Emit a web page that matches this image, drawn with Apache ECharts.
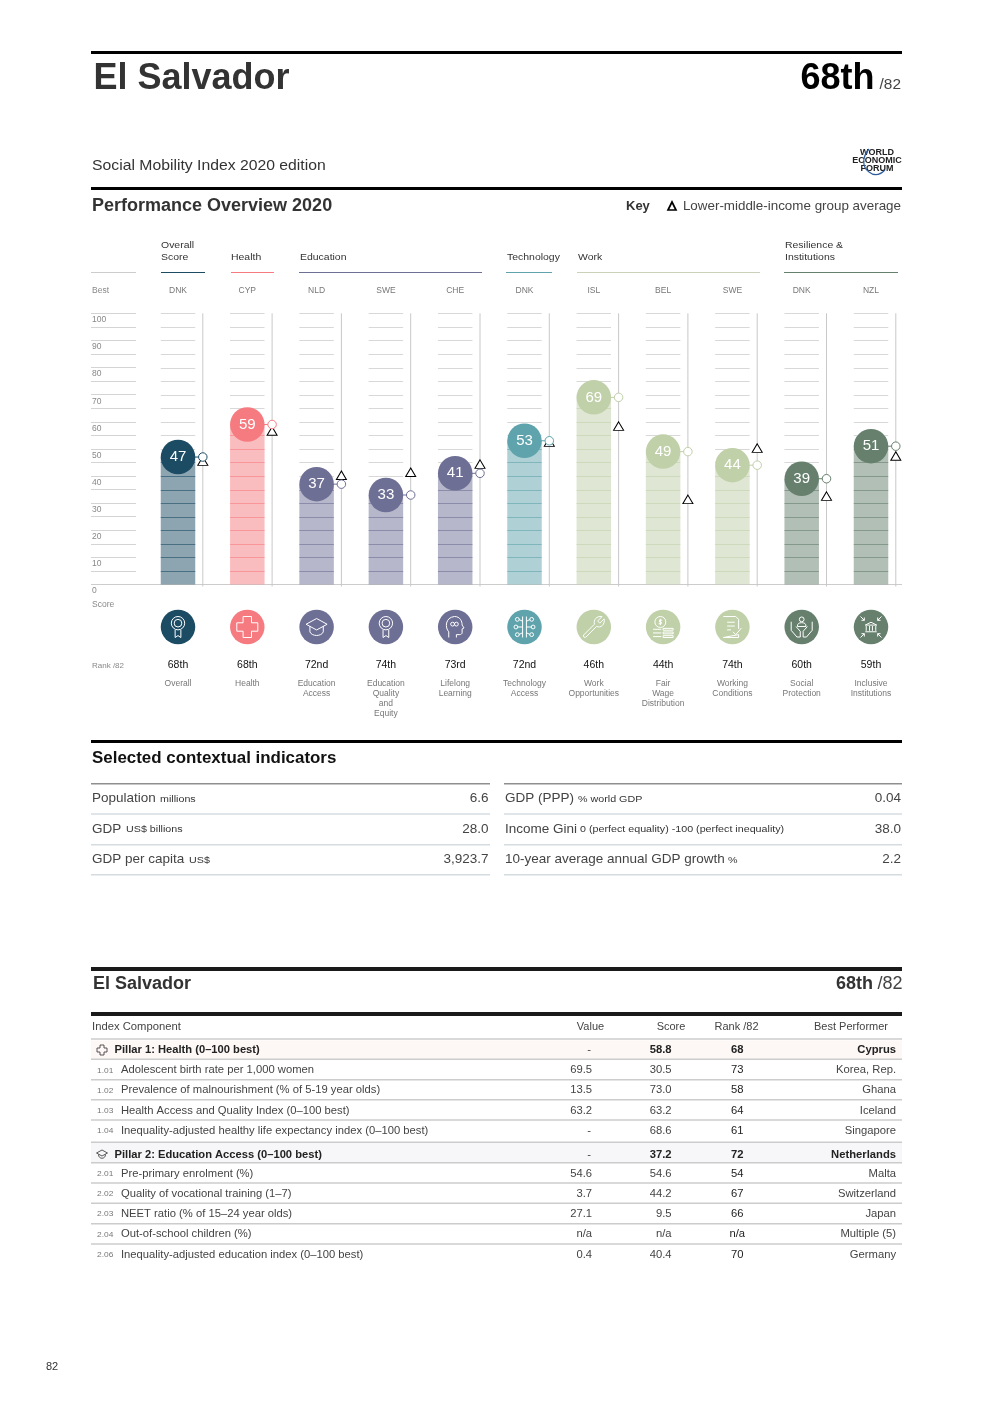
<!DOCTYPE html>
<html><head><meta charset="utf-8">
<style>html,body{margin:0;padding:0;background:#fff}#c{width:992px;height:1403px}</style>
<script src="https://cdn.jsdelivr.net/npm/echarts@6/dist/echarts.min.js"></script>
</head><body><div id="c"></div>
<script>
const FF = '"Liberation Sans", Arial, sans-serif';
// ---- data ----
const bestCodes = ['DNK','CYP','NLD','SWE','CHE','DNK','ISL','BEL','SWE','DNK','NZL'];
const scores = [47,59,37,33,41,53,69,49,44,39,51];
const groupAverages = [45.5,56.6,40.3,41.4,44.4,52.5,58.4,31.4,50.3,32.6,47.4];
const ranks = ['68th','68th','72nd','74th','73rd','72nd','46th','44th','74th','60th','59th'];
const names = [['Overall'],['Health'],['Education','Access'],['Education','Quality','and','Equity'],['Lifelong','Learning'],['Technology','Access'],['Work','Opportunities'],['Fair','Wage','Distribution'],['Working','Conditions'],['Social','Protection'],['Inclusive','Institutions']];
const colors = ['#1c4b64','#f67b80','#6e6f95','#6e6f95','#6e6f95','#5fa3ac','#c0d0a9','#c0d0a9','#c0d0a9','#66806d','#66806d'];
const groups = [
  {lines:['Overall','Score'],x:161,x2:205,color:'#1c4b64'},
  {lines:['Health'],x:231,x2:274,color:'#f67b80'},
  {lines:['Education'],x:300,x2:482,color:'#6e6f95'},
  {lines:['Technology'],x:507,x2:552,color:'#5fa3ac'},
  {lines:['Work'],x:578,x2:760,color:'#c9d2b8'},
  {lines:['Resilience &','Institutions'],x:785,x2:898,color:'#66806d'}
];
const contextLeft = [['Population','millions','6.6'],['GDP','US$ billions','28.0'],['GDP per capita','US$','3,923.7']];
const contextRight = [['GDP (PPP)','% world GDP','0.04'],['Income Gini','0 (perfect equality) -100 (perfect inequality)','38.0'],['10-year average annual GDP growth','%','2.2']];
const contextUnitXLeft = [160,126,189];
const contextUnitXRight = [578,580,728];
const tableRows = [
  ['P','Pillar 1: Health (0–100 best)','-','58.8','68','Cyprus'],
  ['1.01','Adolescent birth rate per 1,000 women','69.5','30.5','73','Korea, Rep.'],
  ['1.02','Prevalence of malnourishment (% of 5-19 year olds)','13.5','73.0','58','Ghana'],
  ['1.03','Health Access and Quality Index (0–100 best)','63.2','63.2','64','Iceland'],
  ['1.04','Inequality-adjusted healthy life expectancy index (0–100 best)','-','68.6','61','Singapore'],
  ['P','Pillar 2: Education Access (0–100 best)','-','37.2','72','Netherlands'],
  ['2.01','Pre-primary enrolment (%)','54.6','54.6','54','Malta'],
  ['2.02','Quality of vocational training (1–7)','3.7','44.2','67','Switzerland'],
  ['2.03','NEET ratio (% of 15–24 year olds)','27.1','9.5','66','Japan'],
  ['2.04','Out-of-school children (%)','n/a','n/a','n/a','Multiple (5)'],
  ['2.06','Inequality-adjusted education index (0–100 best)','0.4','40.4','70','Germany']
];
const rowCenters = [1050,1070,1090,1110.5,1130.5,1154.5,1173.5,1193.5,1213.5,1234,1254.5];
const rowRules = [1039,1059.3,1079.7,1099.7,1120,1142.3,1162.7,1183,1203.3,1223.7,1244];

// ---- icons, drawn in a 24-unit box ----
const ring = (x,y,r)=>`M${x-r} ${y}a${r} ${r} 0 1 0 ${2*r} 0a${r} ${r} 0 1 0 ${-2*r} 0Z`;
const crossPath = 'M8 2H16V8H22V16H16V22H8V16H2V8H8Z';
const capPath = 'M1 9L12 3L23 9L12 15Z M5 11V17C7 22 17 22 19 17V11';
const icons = [
  ring(12,8,7)+ring(12,8,4)+'M9 15V23L12 21L15 23V15',
  crossPath,
  capPath,
  ring(12,8,7)+ring(12,8,4)+'M9 15V23L12 21L15 23V15',
  'M6 23V17C2 13 2 2 12 1C18 1 20 6 20 10L22 13L20 14V18C20 19 19 20 17 20H14V23 '+ring(10,9,2)+ring(14,9,2),
  'M10 1V23 M14 1V23 M10 6L6 4 M14 6L18 4 M10 12H5 M14 12H19 M10 18L6 20 M14 18L18 20 '+ring(4.5,4,2)+ring(19.5,4,2)+ring(3,12,2)+ring(21,12,2)+ring(4.5,20,2)+ring(19.5,20,2),
  'M3 19L13 9C12 5 15 1 20 2L16 6L18 8L22 4C23 9 19 13 15 11L5 21C4 22 2 20 3 19Z',
  ring(9,7,6)+'M11 5H8V7H10V9H7 M9 3.5V10.5 M12 14H23V16H12Z M12 18H23V20H12Z M12 22H23V24H12Z M1 15H10 M1 19H10 M1 23H10',
  'M4 1H17L20 4V14 M20 20V23H4Z M8 7H16 M8 11H16 M8 15H12 M14 17L17 20L23 13',
  ring(12,3.5,2.5)+'M7.5 11C7.5 8 9 7 12 7C15 7 16.5 8 16.5 11Z M1 6V15L7 22H10.5V16L6 11 M23 6V15L17 22H13.5V16L18 11',
  'M12 7L18 10H6Z M7 11V16 M10.5 11V16 M13.5 11V16 M17 11V16 M6 17H18 M1 1L5 5 M5 2V5H2 M23 1L19 5 M19 2V5H22 M1 23L5 19 M2 19H5V22 M23 23L19 19 M22 19H19V22'
];

// ---- page furniture helpers ----
const els = [];
function T(x,y,text,o){o=o||{};
  const s=o.s||10, dy=o.dy!==undefined?o.dy:(s>=30?2:1);
  els.push({type:'text',x:x,y:y+dy,scaleX:o.sx||1,silent:true,z:o.z||10,style:{text:text,fill:o.c||'#444',fontFamily:o.ff||FF,fontSize:s,fontWeight:o.b?'bold':'normal',textAlign:o.a||'left',textVerticalAlign:'middle'}});
}
function R(x1,x2,y,h,c){els.push({type:'rect',silent:true,z:1,shape:{x:x1,y:y-h/2,width:x2-x1,height:h},style:{fill:c}});}
function POLY(pts,st,closed,x,y,k){els.push({type:closed?'polygon':'polyline',silent:true,z:11,x:x||0,y:y||0,scaleX:k||1,scaleY:k||1,shape:{points:pts},style:Object.assign({fill:closed?st.fill:null},st)});}
function BEZ(s,st,x,y,k){els.push({type:'bezierCurve',silent:true,z:11,x:x||0,y:y||0,scaleX:k||1,scaleY:k||1,shape:s,style:Object.assign({fill:null},st)});}

// header
R(91,902,52.5,3,'#000');
T(93.5,77,'El Salvador',{s:36,b:1,c:'#333'});
T(874.5,77,'68th',{s:36,b:1,c:'#000',a:'right'});
T(901,84,'/82',{s:14,c:'#444',a:'right',sx:1.1});
T(92,165,'Social Mobility Index 2020 edition',{s:15,c:'#333',sx:1.05,dy:.5});
T(877,153,'WORLD',{s:9,b:1,c:'#222',a:'center',dy:0});
T(877,160.5,'ECONOMIC',{s:9,b:1,c:'#222',a:'center',dy:0});
T(877,169,'FORUM',{s:9,b:1,c:'#222',a:'center',dy:0});
BEZ({x1:869,y1:149,cpx1:862,cpy1:157,cpx2:862,cpy2:167,x2:869,y2:172},{stroke:'#2b5c9c',lineWidth:1.2});
BEZ({x1:869,y1:172,cpx1:874,cpy1:176,cpx2:880,cpy2:175,x2:885,y2:170},{stroke:'#2b5c9c',lineWidth:1.2});
R(91,902,188.5,3,'#000');
T(92,205,'Performance Overview 2020',{s:18,b:1,c:'#333'});
T(626,205.5,'Key',{s:13,b:1,c:'#333'});
POLY([[672,202],[676,210],[668,210]],{fill:'#fff',stroke:'#000',lineWidth:1.7},true);
T(901,205.5,'Lower-middle-income group average',{s:13.4,c:'#444',a:'right'});

// group heads
R(91,136,272.5,1,'#ccc');
groups.forEach(g=>{
  g.lines.forEach((l,i)=>T(g.x,256.5-12*(g.lines.length-1-i),l,{s:9.5,c:'#333',sx:1.1,dy:.5}));
  R(g.x-(g.x===231||g.x===161?0:1),g.x2,272.5,1,g.color);
});
T(92,290,'Best',{s:8.5,c:'#888'});
T(92,603.5,'Score',{s:8.5,c:'#888'});
T(92,665,'Rank /82',{s:8,c:'#888'});
R(91,902,584.5,1,'#ccc');

// contextual
R(91,902,741.5,3,'#000');
T(92,758,'Selected contextual indicators',{s:16,b:1,c:'#111',sx:1.057});
R(91,490,783.7,1.5,'#8f8f8f'); R(504,902,783.7,1.5,'#8f8f8f');
[814,844.7,874.7].forEach(y=>{R(91,490,y,1.5,'#d5dce0');R(504,902,y,1.5,'#d5dce0');});
[[contextLeft,92,488.5,contextUnitXLeft],[contextRight,505,901,contextUnitXRight]].forEach(([rows,xl,xr,ux])=>{
  rows.forEach((r,i)=>{const y=[797.5,828,858.5][i];
    T(xl,y,r[0],{s:13.5,c:'#444'});
    T(ux[i],y+1,r[1],{s:8.5,c:'#333',sx:1.26});
    T(xr,y,r[2],{s:13.5,c:'#444',a:'right'});
  });
});

// table
R(91,902,969,3.8,'#1a1a1a');
T(93,983,'El Salvador',{s:18,b:1,c:'#333'});
T(873,983,'68th',{s:18,b:1,c:'#333',a:'right'});
T(902.5,983,'/82',{s:18,c:'#444',a:'right'});
R(91,902,1014,3.8,'#1a1a1a');
const headSx=1.1;
T(92,1026.5,'Index Component',{s:10,c:'#444',sx:1.125});
T(590.5,1026.5,'Value',{s:10,c:'#444',a:'center',sx:headSx});
T(671,1026.5,'Score',{s:10,c:'#444',a:'center',sx:headSx});
T(736.5,1026.5,'Rank /82',{s:10,c:'#444',a:'center',sx:headSx});
T(851,1026.5,'Best Performer',{s:10,c:'#444',a:'center',sx:headSx});
R(91,902,1050,19,'#fdf7f6'); R(91,902,1152.5,19,'#f7f7f9');
rowRules.forEach(y=>R(91,902,y,1.5,'#ccc'));
tableRows.forEach((r,i)=>{
  const y=rowCenters[i], p=r[0]==='P', b=p?1:0, col=p?'#222':'#444', sx=1.07, dy=.5;
  if(p){
    const st={stroke:'#444',lineWidth:1.8,fill:'none'};
    if(i===0) POLY([[8,2],[16,2],[16,8],[22,8],[22,16],[16,16],[16,22],[8,22],[8,16],[2,16],[2,8],[8,8]],st,true,96,y-6,.5);
    else {
      POLY([[1,9],[12,3],[23,9],[12,15]],st,true,96,y-6,.5);
      BEZ({x1:5,y1:12,cpx1:5,cpy1:22,cpx2:19,cpy2:22,x2:19,y2:12},st,96,y-6,.5);
    }
    T(114.5,y,r[1],{s:10,b:1,c:col,sx:1.117,dy:dy});
  } else {
    T(97,y,r[0],{s:8,c:'#777',sx:1.05,dy:dy});
    T(121,y,r[1],{s:10.5,c:col,sx:sx,dy:dy});
  }
  T(r[2]==='-'?591:592,y,r[2],{s:10.5,c:'#444',a:'right',sx:sx,dy:dy});
  T(671.5,y,r[3],{s:10.5,c:col,b:b,a:'right',sx:sx,dy:dy});
  T(737.3,y,r[4],{s:10.5,c:'#222',b:b,a:'center',sx:sx,dy:dy});
  T(896,y,r[5],{s:10.5,c:col,b:b,a:'right',sx:sx,dy:dy});
});
T(46,1366,'82',{s:11,c:'#333'});

// ---- chart ----
const stemOffset = 24.8;
const idx = scores.map((_, i) => i);
const option = {
  animation:false,
  backgroundColor:'#fff',
  textStyle:{fontFamily:FF},
  grid:[
    {left:143.35,width:762.3,top:313.3,height:271.2,containLabel:false},
    {left:143.35,width:762.3,top:610,height:34,containLabel:false}
  ],
  xAxis:[
    {type:'category',gridIndex:0,position:'top',data:bestCodes,axisLine:{show:false},axisTick:{show:false},
      axisLabel:{interval:0,margin:18,fontSize:8.5,color:'#777',fontFamily:FF}},
    {type:'category',gridIndex:1,position:'bottom',data:idx.map(String),axisLine:{show:false},axisTick:{show:false},
      axisLabel:{interval:0,margin:8,
        formatter:(v)=>`{r|${ranks[+v]}}\n`+names[+v].map(n=>`{n|${n}}`).join('\n'),
        rich:{r:{fontSize:10.5,color:'#111',lineHeight:27,fontFamily:FF},n:{fontSize:8.5,color:'#777',lineHeight:10,fontFamily:FF}}}}
  ],
  yAxis:[
    {type:'value',gridIndex:0,min:0,max:100,interval:5,offset:7.35,position:'left',
      axisLine:{show:false},splitLine:{show:false},
      axisTick:{show:true,length:45,lineStyle:{color:'#d4d4d4',width:1}},
      axisLabel:{align:'left',verticalAlign:'top',lineHeight:13,margin:44,fontSize:8.5,color:'#888',fontFamily:FF,showMinLabel:true,showMaxLabel:true,
        formatter:v=>v%10===0?String(v):''}},
    {type:'value',gridIndex:1,min:0,max:1,show:false}
  ],
  graphic:{elements:els},
  series:[
    {type:'bar',name:'Score',xAxisIndex:0,yAxisIndex:0,barWidth:34.5,z:2,silent:true,
      data:scores.map((v,i)=>({value:v,itemStyle:{color:colors[i],opacity:.5}}))},
    {type:'custom',name:'Rules',xAxisIndex:0,yAxisIndex:0,z:3,silent:true,clip:false,
      data:idx.map(i=>[i,scores[i]]),encode:{x:0,y:1},
      renderItem:(p,api)=>{
        const i=api.value(0), s=api.value(1), cx=api.coord([i,0])[0], kids=[];
        for(let k=1;k<=20;k++){
          const v=k*5, y=Math.round(api.coord([i,v])[1])+.5;
          kids.push({type:'line',shape:{x1:cx-17.25,y1:y,x2:cx+17.25,y2:y},
            style:{stroke:v<s?colors[i]:'#d8d8d8',opacity:v<s?.6:1,lineWidth:1}});
        }
        const top=api.coord([i,100])[1], bot=api.coord([i,0])[1], ys=api.coord([i,s])[1];
        kids.push({type:'line',shape:{x1:cx+stemOffset,y1:top,x2:cx+stemOffset,y2:bot+2},style:{stroke:'#c8c8c8',lineWidth:1}});
        kids.push({type:'line',shape:{x1:cx+15,y1:ys,x2:cx+stemOffset,y2:ys},style:{stroke:colors[i],lineWidth:1}});
        return {type:'group',children:kids};
      }},
    {type:'scatter',name:'Lower-middle-income group average',xAxisIndex:0,yAxisIndex:0,symbol:'triangle',symbolSize:[10,8.5],symbolOffset:[stemOffset,0],z:4,silent:true,
      itemStyle:{color:'#fff',borderColor:'#000',borderWidth:1,opacity:1},data:groupAverages},
    {type:'scatter',name:'Score marker',xAxisIndex:0,yAxisIndex:0,symbol:'circle',symbolSize:8.5,symbolOffset:[stemOffset,0],z:5,silent:true,
      data:scores.map((v,i)=>({value:v,itemStyle:{color:'#fff',borderColor:colors[i],borderWidth:1,opacity:1}}))},
    {type:'scatter',name:'Score badge',xAxisIndex:0,yAxisIndex:0,symbol:'circle',symbolSize:34.5,z:6,silent:true,
      data:scores.map((v,i)=>({value:v,itemStyle:{color:colors[i],opacity:1}})),
      label:{show:true,position:'inside',color:'#fff',fontSize:15,fontFamily:FF,formatter:p=>String(p.value)}},
    {type:'scatter',name:'Icon disc',xAxisIndex:1,yAxisIndex:1,symbol:'circle',symbolSize:34.5,z:2,silent:true,
      data:idx.map(i=>({value:[String(i),.5],itemStyle:{color:colors[i],opacity:1}}))},
    {type:'scatter',name:'Icon',xAxisIndex:1,yAxisIndex:1,symbolSize:21,symbolKeepAspect:true,z:3,silent:true,
      data:idx.map(i=>({value:[String(i),.5],symbol:'path://'+icons[i],itemStyle:{color:'rgba(0,0,0,0)',borderColor:'#fff',borderWidth:1,opacity:1}}))}
  ]
};
const chart = echarts.init(document.getElementById('c'),null,{width:992,height:1403,renderer:'canvas'});
chart.setOption(option);
</script></body></html>
